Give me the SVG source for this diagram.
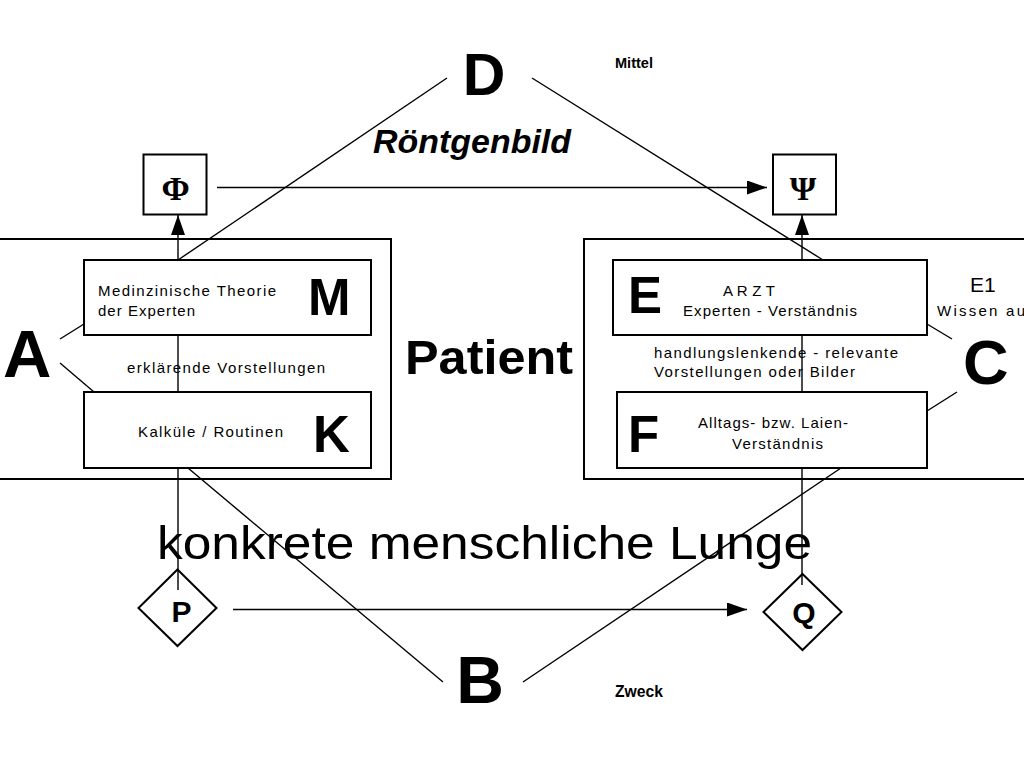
<svg xmlns="http://www.w3.org/2000/svg" width="1024" height="768" viewBox="0 0 1024 768">
<defs>
<style>
.box{fill:none;stroke:#000;stroke-width:2}
.ln{fill:none;stroke:#000;stroke-width:1.4}
.t{font-family:"Liberation Sans",Arial,sans-serif;fill:#000}
.s{font-size:15px}
.big{font-weight:bold}
.sym{font-family:"Liberation Serif","Times New Roman",serif;font-size:34px;font-weight:bold;fill:#000}
</style>
<marker id="ah" markerUnits="userSpaceOnUse" markerWidth="22" markerHeight="16" refX="20" refY="7" orient="auto">
<path d="M0,0 L20,7 L0,14 Z" fill="#000"/>
</marker>
</defs>
<rect width="1024" height="768" fill="#fff"/>

<g id="connectors">
<line class="ln" x1="447" y1="78" x2="178" y2="260"/>
<line class="ln" x1="532" y1="78" x2="823" y2="260"/>
<line class="ln" x1="443" y1="682" x2="188" y2="468"/>
<line class="ln" x1="523" y1="682" x2="841" y2="468"/>
<line class="ln" x1="60" y1="339" x2="84" y2="324"/>
<line class="ln" x1="60" y1="363" x2="94" y2="392"/>
<line class="ln" x1="927" y1="324" x2="952" y2="339"/>
<line class="ln" x1="927" y1="411" x2="957" y2="392"/>
<line class="ln" x1="178" y1="335" x2="178" y2="392"/>
<line class="ln" x1="178" y1="468" x2="178" y2="590"/>
<line class="ln" x1="802" y1="335" x2="802" y2="392"/>
<line class="ln" x1="802" y1="468" x2="802" y2="585"/>
<line class="ln" x1="178" y1="260" x2="178" y2="215" marker-end="url(#ah)"/>
<line class="ln" x1="802" y1="260" x2="802" y2="215" marker-end="url(#ah)"/>
<line class="ln" x1="217" y1="187.5" x2="767" y2="187.5" marker-end="url(#ah)"/>
<line class="ln" x1="233" y1="609.5" x2="747" y2="609.5" marker-end="url(#ah)"/>
</g>

<g id="left-frame"><rect class="box" x="-5" y="239" width="396" height="240"/></g>
<g id="right-frame"><rect class="box" x="584" y="239" width="450" height="240"/></g>

<g id="node-M">
<rect class="box" x="84" y="260" width="287" height="75" fill="#fff"/>
<text class="t s" x="98" y="296" textLength="178">Medinzinische  Theorie</text>
<text class="t s" x="98" y="316" textLength="97">der Experten</text>
<text class="t big" x="308" y="315" font-size="51">M</text>
</g>
<g id="node-K">
<rect class="box" x="84" y="392" width="287" height="76"/>
<text class="t s" x="138" y="437" textLength="145">Kalküle  / Routinen</text>
<text class="t big" x="313" y="452" font-size="51">K</text>
</g>
<text class="t s" x="127" y="373" textLength="198">erklärende  Vorstellungen</text>

<g id="node-E">
<rect class="box" x="613" y="260" width="314" height="75"/>
<text class="t big" x="628" y="313" font-size="51">E</text>
<text class="t s" x="723" y="296" textLength="52">A R Z T</text>
<text class="t s" x="683" y="316" textLength="174">Experten - Verständnis</text>
</g>
<g id="node-F">
<rect class="box" x="617" y="392" width="310" height="76"/>
<text class="t big" x="628" y="452" font-size="51">F</text>
<text class="t s" x="698" y="428" textLength="150">Alltags- bzw. Laien-</text>
<text class="t s" x="732" y="449" textLength="91">Verständnis</text>
</g>
<text class="t s" x="654" y="358" textLength="244">handlungslenkende  - relevante</text>
<text class="t s" x="654" y="377" textLength="201">Vorstellungen oder  Bilder</text>

<g id="node-E1">
<text class="t" x="970" y="292" font-size="21">E1</text>
<text class="t s" x="937" y="316" textLength="88">Wissen au</text>
</g>

<g id="node-A"><text class="t big" x="3" y="377" font-size="67">A</text></g>
<g id="node-C"><text class="t big" x="963" y="384" font-size="63">C</text></g>
<g id="node-D"><text class="t big" x="484" y="95" font-size="59" text-anchor="middle">D</text></g>
<g id="node-B"><text class="t big" x="480" y="703" font-size="66" text-anchor="middle">B</text></g>

<g id="node-Phi">
<rect class="box" x="143.5" y="154.5" width="63" height="60" stroke-width="2.5"/>
<text class="sym" x="175.5" y="200" text-anchor="middle">Φ</text>
</g>
<g id="node-Psi">
<rect class="box" x="773" y="154.5" width="63" height="60" stroke-width="2.5"/>
<text class="sym" x="803" y="200" text-anchor="middle">Ψ</text>
</g>

<g id="node-P">
<polygon class="box" points="177.5,569.5 216.5,608 177.5,646 138.5,608"/>
<text class="t big" x="181.5" y="622" font-size="30" text-anchor="middle">P</text>
</g>
<g id="node-Q">
<polygon class="box" points="802.5,574 841.5,612 802.5,650 763.5,612"/>
<text class="t big" x="804" y="623" font-size="30" text-anchor="middle">Q</text>
</g>

<text class="t big" x="373" y="153" font-size="33" font-style="italic" textLength="198" lengthAdjust="spacingAndGlyphs">Röntgenbild</text>
<text class="t big" x="405" y="374" font-size="49" textLength="168" lengthAdjust="spacingAndGlyphs">Patient</text>
<text class="t" x="157" y="559" font-size="47" textLength="655" lengthAdjust="spacingAndGlyphs">konkrete  menschliche Lunge</text>
<text class="t big" x="615" y="68" font-size="15" textLength="38" lengthAdjust="spacingAndGlyphs">Mittel</text>
<text class="t big" x="615" y="697" font-size="17" textLength="48" lengthAdjust="spacingAndGlyphs">Zweck</text>
</svg>
